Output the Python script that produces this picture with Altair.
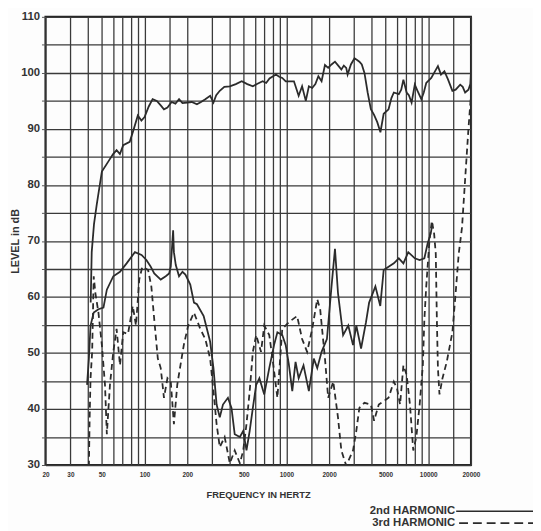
import altair as alt
import pandas as pd

# ---------------- data ----------------
main_f = [41.7, 42.4, 44, 46, 50, 55.6, 60, 63.5, 67, 70.7, 78.6, 84, 89.6, 95, 100, 107, 114, 122, 130, 137,
          145, 155, 165, 175, 185, 200, 215, 234, 250, 268, 290, 306, 320, 339, 365, 399, 440, 484, 530, 580,
          620, 680, 720, 760, 843, 890, 935, 989, 1040, 1130, 1220, 1290, 1370, 1440, 1520, 1600, 1680, 1770,
          1870, 1970, 2080, 2200, 2320, 2440, 2540, 2640, 2700, 2850, 3020, 3150, 3270, 3400, 3550, 3740, 3940,
          4150, 4370, 4600, 4850, 5250, 5500, 5720, 6200, 6450, 6680, 7040, 7300, 7630, 8040, 8400, 8940, 9300,
          9680, 10500, 11000, 11700, 12300, 13000, 13800, 14800, 15600, 16800, 17500, 18200, 19200, 19800, 20000]
main_db = [59, 68, 73, 76.5, 82.4, 84.2, 85.5, 86.2, 85.5, 87.1, 87.7, 90, 92.4, 91.5, 92.1, 94, 95.3, 95, 94.2, 93.5,
           93.8, 94.8, 94.5, 95.3, 94.6, 94.7, 94.8, 94.4, 94.8, 95.3, 95.9, 94.7, 96, 96.8, 97.5, 97.6, 98, 98.5, 98, 97.6,
           98, 98.5, 98.2, 99, 99.7, 99.3, 99.1, 98.5, 98.5, 98.5, 95.9, 97.6, 95, 97.6, 97.3, 98, 99.4, 98.5,
           101.4, 100.9, 101.5, 102, 101.3, 100.6, 101.3, 100.9, 99.7, 101.5, 102.6, 102.3, 102, 101.5, 100, 96.5, 93.5,
           92.5, 91.2, 89.4, 92.7, 93.5, 95.5, 96.5, 96.2, 97, 98.8, 96.5, 96, 94.7, 97.9, 96.8, 95.3, 96.5,
           98.2, 99.1, 100, 101.2, 99.7, 100.3, 98.8, 96.8, 97, 97.9, 97.5, 96.5, 97, 98, 100]

h2_f = [39.3, 40.5, 41.6, 43.8, 47.3, 51.3, 54.2, 60.2, 67.1, 74.7, 85.5, 95.2, 103, 110, 117, 130, 141, 149, 153,
        159, 161, 166, 175, 185, 194, 210, 223, 234, 261, 290, 306, 322, 339, 357, 387, 410, 432, 470, 496, 523,
        551, 580, 612, 645, 698, 757, 818, 864, 935, 989, 1040, 1100, 1160, 1220, 1320, 1440, 1560, 1650, 1770,
        1930, 2080, 2200, 2310, 2510, 2730, 2950, 3110, 3360, 3640, 3830, 4240, 4590, 4850, 5250, 5720, 6200,
        6680, 7230, 8040, 8700, 9390, 9890, 10400, 10700]
h2_db = [44.3, 49, 54.9, 57.2, 57.8, 58.1, 61.3, 63.7, 64.5, 66, 68, 67.5, 66.6, 65.5, 64.2, 63.1, 63.7, 64.2, 65.4,
         71.9, 68, 65.7, 63.7, 64.5, 64, 62.2, 59, 58.7, 56.6, 52, 47.3, 40.8, 38.5, 40.8, 42, 40.2, 35.5, 35, 36.1, 32.6,
         36.1, 40.2, 44.3, 45.5, 42.6, 47.3, 51.4, 53.7, 53.2, 51.4, 48, 43.2, 48.4, 45.5, 47.8, 43.2, 49, 47.3, 50.2,
         52.5, 61.9, 68.6, 60.7, 53.2, 54.9, 51.4, 54.9, 50.8, 55.5, 59, 61.9, 58.4, 64.8, 65.4, 66, 66.9,
         66, 68, 66.9, 66.6, 66.9, 69.5, 71.3, 73]

h3_f = [40.5, 41, 41.6, 42.7, 43.8, 45, 47.3, 50, 52.6, 54.2, 57, 60.2, 63.5, 67.1, 70.7, 76.4, 82.6, 87, 91.7, 96.5,
        105.9, 111.6, 117, 124, 130, 137, 145, 153, 161, 170, 179, 189, 203, 223, 247, 268, 290, 306, 322, 339,
        367, 399, 432, 470, 496, 523, 551, 580, 612, 662, 698, 757, 798, 864, 935, 1040, 1190, 1290, 1400, 1520,
        1650, 1730, 1870, 1970, 2140, 2310, 2440, 2640, 2950, 3110, 3270, 3550, 3940, 4150, 4480, 4850, 5250,
        5720, 6020, 6330, 6680, 7040, 7430, 7840, 8240, 8700, 9160, 9390, 9680, 10200, 10600, 11000, 11300,
        11500, 11700, 12000, 12600, 13500, 14800, 15600, 16400, 17300, 18200, 19200, 20000]
h3_db = [29.7, 38.5, 45.5, 50.2, 63.7, 60.7, 57.2, 51.4, 44.3, 35.5, 44.3, 50.2, 54.3, 47.8, 53.7, 53.4, 58.4, 54.9, 63.1, 65.4,
         64.8, 61.9, 56, 49, 47.3, 42, 45.5, 44.9, 37.3, 44.3, 47.8, 51.4, 54.9, 57.2, 54.3, 52.5, 49, 43.2, 37.3, 33.2,
         35, 30.3, 32.6, 30.3, 32.6, 37.3, 43.2, 50.2, 53.2, 50.2, 54.9, 53.2, 49, 42, 54.3, 55.5, 56.6, 52.5, 50.2, 54.3,
         59.6, 57.8, 49, 42, 44.9, 38.5, 32.6, 29.9, 32.6, 36.1, 40.2, 41.1, 40.8, 37.9, 40.8, 41.4, 42,
         44.9, 43.7, 40.8, 47.8, 46.1, 40.8, 32.6, 35, 40.8, 47.8, 56, 61.9, 70.1, 73.6, 71.3, 67.7,
         56, 47.3, 42.6, 45.5, 48.4, 53.7, 60.7, 67.7, 72.4, 81, 90, 96]

x_grid = [20, 30, 40, 50, 60, 70, 80, 90, 100, 150, 200, 300, 400, 500, 600, 700, 800, 900, 1000,
          1500, 2000, 3000, 4000, 5000, 6000, 7000, 8000, 9000, 10000, 15000, 20000]
x_labels = [20, 30, 50, 100, 200, 500, 1000, 2000, 5000, 10000, 20000]
y_grid = list(range(30, 111, 5))
legend_labels = ["2nd HARMONIC", "3rd HARMONIC"]

# ---------------- build ----------------
INK = "#2b2b2b"
FONT = "Liberation Sans"

rows = []
for name, fs, dbs in [("main", main_f, main_db), ("h2", h2_f, h2_db), ("h3", h3_f, h3_db)]:
    for i, (f, d) in enumerate(zip(fs, dbs)):
        rows.append({"series": name, "f": f, "db": d, "i": i})
df = pd.DataFrame(rows)

xs = alt.Scale(type="log", domain=[20, 20000], nice=False)
ys = alt.Scale(domain=[30, 110], nice=False, zero=False)

label_list = "[" + ",".join(str(v) for v in x_labels) + "]"
x_axis = alt.Axis(values=x_grid, grid=True, gridColor="#3a3a3a", gridWidth=1.3, gridOpacity=1,
                  labelExpr="indexof(" + label_list + ", datum.value) >= 0 ? datum.label : ''",
                  format="d",
                  labelFontSize=6.5, labelFont=FONT, labelFontWeight="bold", labelColor="#333",
                  labelPadding=7, tickSize=0, domain=False, labelFlush=False, labelOverlap=False,
                  title="FREQUENCY IN HERTZ", titleFont=FONT, titleFontSize=9.5, titleFontWeight="bold",
                  titleColor="#333", titlePadding=11)
y_axis = alt.Axis(values=y_grid, grid=True, gridColor="#3a3a3a", gridWidth=1.3, gridOpacity=1,
                  labelExpr="datum.value % 10 == 0 ? datum.label : ''",
                  labelFontSize=11.5, labelFont=FONT, labelFontWeight="bold", labelColor="#333",
                  labelPadding=2, tickSize=4, tickColor="#555", domain=False, labelOverlap=False,
                  title="LEVEL in dB", titleFont=FONT, titleFontSize=11, titleFontWeight="bold",
                  titleColor="#333", titlePadding=0)

base = alt.Chart(df).encode(
    x=alt.X("f:Q", scale=xs, axis=x_axis),
    y=alt.Y("db:Q", scale=ys, axis=y_axis),
    order="i:Q",
)

main_l = base.mark_line(color=INK, strokeWidth=1.8, clip=True).transform_filter("datum.series == 'main'")
h2_l = base.mark_line(color=INK, strokeWidth=1.8, clip=True).transform_filter("datum.series == 'h2'")
h3_l = base.mark_line(color=INK, strokeWidth=1.8, clip=True, strokeDash=[6, 4]).transform_filter("datum.series == 'h3'")

leg_df = pd.DataFrame({"t": legend_labels})
leg1 = alt.Chart(leg_df.iloc[[0]]).mark_text(align="right", baseline="middle", font=FONT, fontSize=11.5,
                                              fontWeight="bold", color="#333").encode(
    x=alt.value(416), y=alt.value(502), text="t:N")
leg2 = alt.Chart(leg_df.iloc[[1]]).mark_text(align="right", baseline="middle", font=FONT, fontSize=11.5,
                                              fontWeight="bold", color="#333").encode(
    x=alt.value(416), y=alt.value(514), text="t:N")
leg_solid = alt.Chart(leg_df.iloc[[0]]).mark_rule(color=INK, strokeWidth=1.6).encode(
    x=alt.value(417), x2=alt.value(495), y=alt.value(502))
leg_dash = alt.Chart(leg_df.iloc[[1]]).mark_rule(color=INK, strokeWidth=1.6, strokeDash=[9, 5]).encode(
    x=alt.value(420), x2=alt.value(495), y=alt.value(514))

chart = alt.layer(main_l, h2_l, h3_l, leg1, leg2, leg_solid, leg_dash).properties(
    width=432, height=455,
    autosize=alt.AutoSizeParams(type="none"),
    padding={"left": 38, "top": 5, "right": 63, "bottom": 63},
    background="#fdfdfd",
).configure_view(stroke="#222", strokeWidth=2)

chart.save("out.html", embed_options={"renderer": "svg", "actions": False})
